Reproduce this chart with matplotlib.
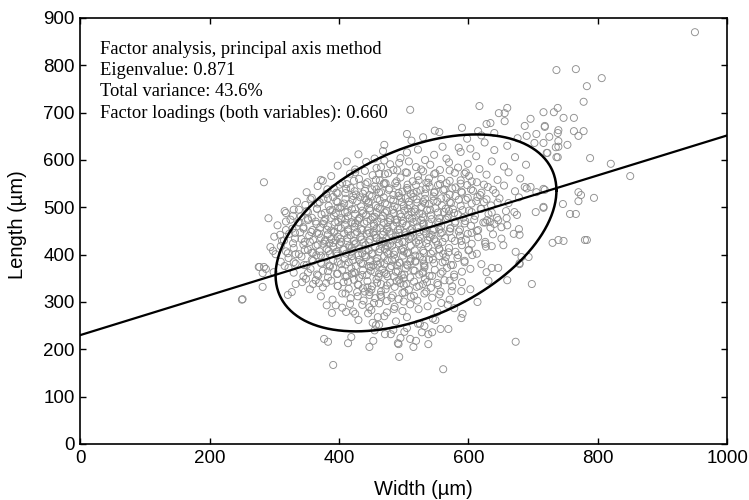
import numpy as np
import matplotlib
matplotlib.use("Agg")
import matplotlib.pyplot as plt

# ---- data ----
outer_points = [
    (950,870),(250,305),(284,553),(375,556),(398,530),(412,549),(471,570),(465,585),(493,594),
    (316,492),(329,482),(291,477),(309,442),(294,416),(302,401),(276,374),(284,374),
    (510,706),(617,714),(647,699),(656,699),(660,710),(628,676),(634,678),(656,682),(687,672),
    (696,687),(716,701),(732,701),(738,710),(555,659),(615,661),(640,657),(705,655),(718,670),
    (738,657),(676,646),(690,651),(702,636),(722,615),(738,606),(739,628),
    (736,790),(766,792),(806,773),(783,756),(778,723),(747,689),(763,689),(718,672),(739,663),
    (763,661),(778,661),(770,651),(725,649),(739,640),(735,627),(753,632),(721,615),(736,606),
    (788,604),(820,592),(850,566),(770,532),(774,526),(770,513),(794,520),(746,507),(757,486),
    (766,486),(716,539),(716,499),(730,425),(739,431),(747,429),(780,431),(783,431),
    (251,306),(282,332),(277,374),(287,370),(282,361),(299,363),(316,376),(322,372),(333,338),
    (343,342),(349,349),(355,327),(327,321),(321,315),(364,346),(369,340),(381,293),(395,293),
    (389,277),(411,279),(417,296),(425,275),(377,222),(383,216),(391,167),(414,213),(419,226),
    (447,205),(453,218),(457,251),(460,268),(471,232),(484,241),(491,213),(493,184),(447,289),
    (454,298),(485,285),
    (561,158),(673,216),(698,338),(679,380),(660,346),(631,345),(614,300),(603,327),(578,287),
    (591,275),(589,266),(569,243),(557,243),(544,236),(538,232),(538,211),(510,222),(519,218),
    (515,205),(495,224),(492,211),(501,237),(549,262),(532,249),(522,254),(574,323),(589,323),
    (558,298),(636,372),(646,372),(628,363),
    (682,395),(693,395),(679,382),(673,406),(704,490),(716,501),(678,454),(679,442),(670,444),
    (654,420),(636,418),(626,423),(651,458),(640,465),(633,469),(629,473),(659,477),(671,490),
    (687,543),(696,543),(705,532),(718,537),(716,636),
]

core_upper = [
    (548,662),(590,668),(505,655),(620,652),
    (470,632),(512,641),(560,628),(598,645),(625,637),(530,648),(660,630),(585,626),
    (430,612),(468,619),(495,604),(522,622),(547,611),(566,603),(588,617),(612,608),(640,621),
    (455,603),(533,600),(603,624),(672,606),(505,616),
    (398,588),(425,580),(442,596),(458,583),(479,591),(490,578),(508,597),(519,585),(541,590),
    (556,579),(570,595),(584,584),(599,592),(617,581),(636,597),(655,586),(470,599),(530,576),
    (689,590),(412,597),
    (372,558),(388,566),(405,552),(417,571),(431,560),(444,553),(452,568),(463,557),(476,572),
    (487,551),(495,563),(503,574),(514,555),(522,566),(535,552),(547,570),(558,560),(566,551),
    (579,573),(588,557),(601,566),(613,553),(628,569),(645,558),(662,574),(680,561),(425,574),
    (539,561),(470,551),(596,574),
    (350,532),(367,545),(380,528),(392,540),(401,548),(410,530),(418,541),(426,527),(433,546),
    (440,535),(447,526),(455,544),(462,531),(469,549),(477,537),(484,526),(490,545),(498,533),
    (505,541),(511,528),(519,547),(526,536),(533,529),(540,544),(548,532),(556,549),(563,538),
    (571,527),(580,542),(590,531),(598,547),(607,535),(618,526),(630,543),(642,530),(655,546),
    (672,534),(690,540),(458,538),(515,530),
]

core_middle = [
    (335,512),(348,505),(358,520),(367,508),(376,517),(384,503),(391,522),(398,511),(404,501),
    (410,518),(416,507),(422,524),(428,513),(434,502),(440,519),(445,509),(451,523),(457,504),
    (463,515),(469,521),(474,506),(480,517),(486,502),(492,524),(497,511),(503,519),(509,505),
    (515,522),(521,510),(527,501),(533,518),(539,507),(546,523),(552,512),(559,504),(566,520),
    (573,509),(580,524),(588,503),(596,516),(605,508),(614,522),(624,511),(635,504),(648,519),
    (662,509),(678,521),(442,515),(500,503),(530,512),
    (318,488),(330,495),(341,481),(350,492),(358,478),(366,497),(373,485),(379,476),(386,494),
    (392,483),(398,499),(403,477),(409,490),(414,481),(420,496),(425,486),(431,476),(436,493),
    (442,484),(447,498),(452,479),(458,489),(463,497),(468,482),(474,492),(479,477),(485,488),
    (490,499),(496,480),(501,493),(507,484),(513,476),(518,496),(524,487),(530,479),(536,494),
    (542,483),(549,498),(555,477),(562,490),(569,481),(576,496),(584,485),(592,478),(601,493),
    (610,482),(620,497),(631,486),(644,478),(658,492),(675,484),(395,488),(455,480),(512,490),
    (570,492),
    (305,462),(318,470),(328,455),(337,468),(345,458),(352,473),(359,452),(365,465),(371,457),
    (377,471),(383,460),(388,451),(394,468),(399,458),(404,474),(409,463),(414,453),(419,469),
    (424,459),(429,472),(434,455),(439,466),(444,451),(449,474),(454,461),(459,470),(464,456),
    (469,467),(474,452),(479,473),(484,460),(489,468),(494,454),(499,471),(504,462),(510,452),
    (515,469),(521,458),(527,473),(533,455),(539,466),(545,451),(552,470),(558,460),(565,474),
    (572,456),(579,467),(587,453),(595,471),(604,461),(613,450),(623,468),(634,457),(646,473),
    (660,462),(425,466),(475,458),(530,464),(490,474),(555,453),
    (300,438),(312,429),(323,444),(332,434),(340,447),(347,427),(354,440),(360,431),(366,446),
    (372,436),(378,428),(383,443),(388,433),(393,449),(398,438),(403,427),(408,445),(413,435),
    (418,441),(423,429),(428,448),(433,437),(438,426),(443,444),(448,432),(453,447),(458,436),
    (463,428),(468,442),(473,434),(478,449),(483,430),(488,439),(493,446),(498,427),(503,441),
    (508,433),(514,447),(519,426),(525,438),(531,449),(537,431),(543,442),(550,428),(557,445),
    (564,435),(571,449),(579,429),(587,440),(596,432),(605,446),(615,437),(626,427),(638,443),
    (651,434),(395,430),(455,442),(510,440),(470,426),(540,437),
]

core_lower = [
    (298,408),(310,418),(321,403),(330,414),(338,401),(345,421),(352,410),(358,404),(364,419),
    (370,407),(376,423),(381,412),(386,401),(391,417),(396,406),(401,422),(406,411),(411,402),
    (416,418),(421,408),(426,424),(431,413),(436,403),(441,420),(446,409),(451,401),(456,416),
    (461,405),(466,422),(471,412),(476,402),(482,419),(487,408),(493,424),(499,413),(505,403),
    (511,419),(517,409),(524,423),(531,404),(538,416),(545,407),(553,421),(561,402),(570,414),
    (580,406),(590,420),(601,410),(613,402),(627,417),(420,415),(475,418),(500,407),(555,412),
    (385,424),
    (310,385),(322,393),(333,381),(342,396),(350,378),(358,389),(365,399),(372,383),(379,394),
    (385,377),(391,388),(397,398),(403,380),(409,392),(415,384),(420,397),(426,376),(431,389),
    (437,381),(442,395),(448,386),(453,378),(459,393),(464,382),(470,397),(475,388),(481,376),
    (487,391),(493,383),(499,398),(505,379),(511,392),(518,385),(525,396),(532,377),(539,390),
    (547,382),(555,397),(564,386),(573,378),(583,393),(594,384),(606,399),(620,380),(460,379),
    (510,386),(440,399),(530,389),(490,377),(565,395),
    (330,362),(345,354),(356,370),(366,358),(375,366),(383,352),(391,373),(398,360),(405,368),
    (412,355),(419,371),(425,361),(431,351),(437,367),(443,357),(449,374),(455,363),(461,353),
    (467,369),(473,359),(479,372),(485,354),(491,365),(497,357),(503,371),(510,352),(517,366),
    (524,358),(532,373),(540,355),(548,368),(557,360),(567,372),(578,353),(590,364),(603,370),
    (470,362),(420,360),(530,364),(500,350),
    (360,338),(375,331),(388,345),(398,334),(407,342),(415,328),(423,347),(430,336),(437,329),
    (444,344),(451,333),(458,348),(465,338),(472,327),(479,341),(486,332),(493,347),(500,336),
    (508,326),(516,343),(524,334),(533,348),(542,330),(552,340),(563,346),(575,333),(590,342),
    (450,326),(495,340),(530,338),
    (372,312),(390,305),(405,318),(418,308),(428,321),(438,303),(447,315),(456,308),(465,322),
    (474,302),(483,314),(492,306),(501,320),(511,311),(521,303),(532,318),(544,309),(557,322),
    (571,305),(440,322),(500,301),(465,311),
    (405,288),(422,280),(436,294),(450,283),(462,297),(474,278),(486,290),(498,281),(510,295),
    (523,285),(537,291),(552,279),(568,294),(445,276),
    (430,262),(452,256),(470,270),(488,259),(505,268),(525,254),(545,265),(462,252),
    (455,240),(480,232),(505,245),(528,236),
]

core_dense = [
    (440,577),(462,571),(484,579),(505,573),(527,580),(549,572),(571,578),(594,571),
    (423,556),(441,549),(457,558),(472,551),(489,555),(506,548),(523,557),(538,552),(553,547),
    (571,556),(588,550),(605,555),(624,548),
    (382,538),(396,531),(411,539),(424,534),(437,529),(451,538),(465,532),(478,540),(492,530),
    (506,537),(520,533),(534,539),(547,531),(561,536),(575,540),(589,533),(604,538),(620,531),
    (638,537),
    (356,517),(370,511),(383,519),(396,513),(408,508),(421,516),(433,521),(446,512),(459,518),
    (471,509),(484,515),(496,520),(508,512),(520,517),(533,508),(546,514),(558,519),(571,511),
    (585,516),(599,520),(612,513),(628,517),(645,510),
    (338,495),(352,490),(366,497),(378,488),(390,494),(402,499),(413,490),(425,496),(437,487),
    (448,493),(460,499),(471,489),(483,495),(494,486),(506,497),(517,491),(529,486),(541,495),
    (553,489),(565,497),(578,488),(591,494),(605,490),(619,497),(636,489),
    (325,474),(339,468),(352,476),(364,470),(376,465),(388,477),(399,469),(410,474),(421,466),
    (432,478),(443,470),(454,465),(465,476),(476,469),(487,474),(498,466),(509,477),(520,470),
    (531,466),(543,475),(555,468),(567,477),(580,470),(594,466),(609,474),(626,468),
    (318,452),(332,446),(345,455),(357,448),(369,444),(381,453),(392,447),(403,456),(414,449),
    (425,443),(436,452),(447,446),(458,455),(469,449),(480,443),(491,452),(502,446),(513,455),
    (524,448),(535,444),(547,453),(559,447),(572,455),(585,449),(599,444),(615,452),
    (315,430),(329,424),(342,433),(355,427),(367,421),(379,431),(391,425),(402,434),(413,428),
    (424,422),(435,432),(446,426),(457,435),(468,429),(479,423),(490,433),(501,427),(512,436),
    (523,430),(535,424),(547,433),(560,427),(574,435),(589,429),(605,423),
    (318,407),(333,401),(347,410),(360,404),(372,398),(384,408),(396,402),(408,411),(419,405),
    (430,399),(441,409),(452,403),(463,412),(474,406),(485,400),(496,410),(507,404),(518,398),
    (530,408),(542,402),(555,411),(569,405),(584,399),(600,409),
    (330,384),(346,378),(360,387),(373,381),(386,375),(398,385),(410,379),(422,388),(434,382),
    (446,376),(458,386),(470,380),(482,389),(494,383),(506,377),(518,387),(531,381),(545,390),
    (560,384),(576,378),(594,387),
    (352,362),(368,356),(383,365),(397,359),(410,353),(423,363),(436,357),(449,366),(462,360),
    (475,354),(488,364),(501,358),(515,367),(529,361),(544,355),(560,364),(578,358),
    (380,340),(398,334),(414,343),(429,337),(444,331),(459,341),(474,335),(489,344),(504,338),
    (520,332),(536,342),(553,336),(571,345),
    (410,318),(429,312),(447,321),(464,315),(481,309),(498,319),(516,313),(535,322),(555,316),
]

# fitted line (end points read at x = 0 and x = 1000)
line_width = [0, 1000]
line_length = [230, 652]

# ellipse: centre, half-extents and correlation
ell_center = (519, 446)
ell_half_w = 217
ell_half_h = 208
ell_rho = 0.43

info_lines = [
    "Factor analysis, principal axis method",
    "Eigenvalue: 0.871",
    "Total variance: 43.6%",
    "Factor loadings (both variables): 0.660",
]

x_ticks = [0, 200, 400, 600, 800, 1000]
y_ticks = [0, 100, 200, 300, 400, 500, 600, 700, 800, 900]

# ---- plot ----
pts = np.array(outer_points + core_upper + core_middle + core_lower + core_dense,
               dtype=float)

fig = plt.figure(figsize=(7.49, 5.0), dpi=100)
ax = fig.add_axes([0.107, 0.112, 0.864, 0.852])

ax.scatter(pts[:, 0], pts[:, 1], s=26, facecolors="none",
           edgecolors="#8f8f8f", linewidths=0.65, zorder=2)

ax.plot(line_width, line_length, color="black", lw=1.6, zorder=3)

t = np.linspace(0, 2 * np.pi, 400)
ex = ell_center[0] + ell_half_w * np.cos(t)
ey = ell_center[1] + ell_half_h * (ell_rho * np.cos(t) + np.sqrt(1 - ell_rho ** 2) * np.sin(t))
ax.plot(ex, ey, color="black", lw=1.8, zorder=3)

ax.set_xlim(0, 1000)
ax.set_ylim(0, 900)
ax.set_xticks(x_ticks)
ax.set_yticks(y_ticks)
ax.tick_params(direction="in", length=4, width=1, top=True, right=True,
               labelsize=13.5, pad=4)
for lab in ax.get_xticklabels() + ax.get_yticklabels():
    lab.set_fontfamily("Liberation Sans")
for sp in ax.spines.values():
    sp.set_linewidth(1.2)

ax.set_xlabel("Width (µm)", fontsize=14.5, family="Liberation Sans")
ax.set_ylabel("Length (µm)", fontsize=14.5, family="Liberation Sans")
ax.xaxis.set_label_coords(0.53, -0.085)
ax.yaxis.set_label_coords(-0.082, 0.514)

ax.text(0.03, 0.945, "\n".join(info_lines), transform=ax.transAxes,
        va="top", ha="left", fontsize=13.3, family="Liberation Serif",
        linespacing=1.3)

fig.savefig("out.png", dpi=100)
